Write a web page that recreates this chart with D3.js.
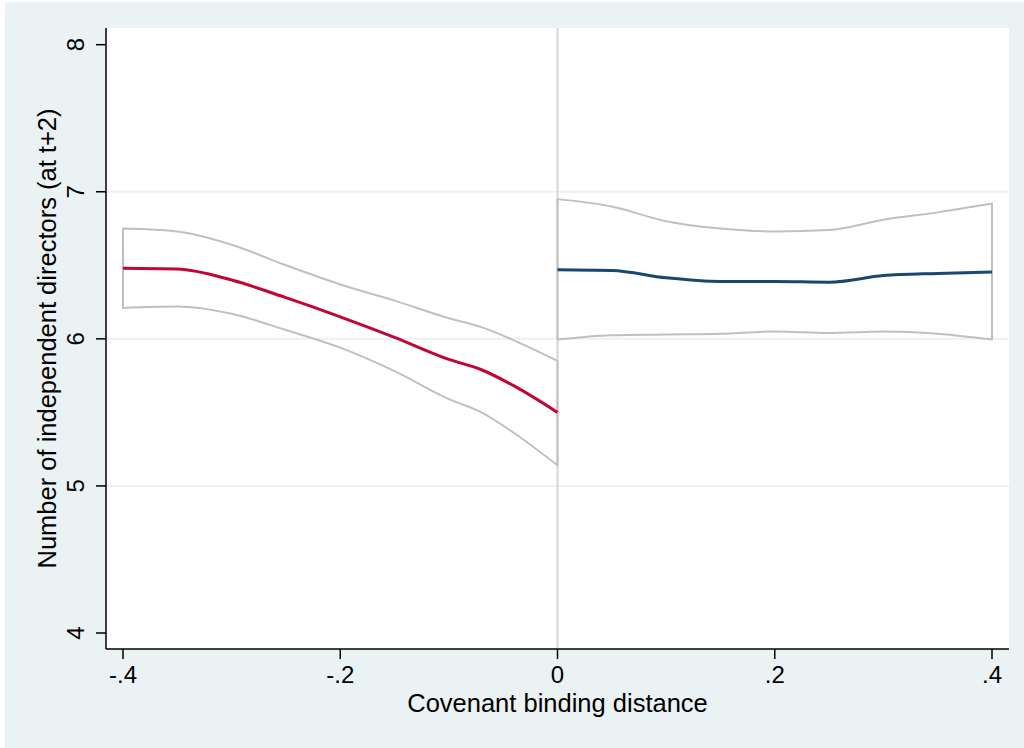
<!DOCTYPE html>
<html>
<head>
<meta charset="utf-8">
<script src="https://cdn.jsdelivr.net/npm/d3@7"></script>
<style>
  body { margin: 0; background: #ffffff; }
  text { font-family: "Liberation Sans", Arial, sans-serif; fill: #000; }
</style>
</head>
<body>
<div id="chart"></div>
<script>
// Values
const leftX     = [-0.4, -0.35, -0.3, -0.25, -0.2, -0.15, -0.1, -0.07, -0.04, 0];
const leftFit   = [6.48, 6.475, 6.40, 6.28, 6.15, 6.01, 5.86, 5.79, 5.68, 5.50];
const leftUpper = [6.75, 6.73, 6.64, 6.50, 6.37, 6.26, 6.14, 6.08, 5.99, 5.85];
const leftLower = [6.21, 6.22, 6.17, 6.06, 5.94, 5.78, 5.59, 5.50, 5.36, 5.14];

const rightX     = [0, 0.05, 0.1, 0.15, 0.2, 0.25, 0.3, 0.35, 0.4];
const rightFit   = [6.47, 6.465, 6.415, 6.39, 6.39, 6.385, 6.43, 6.445, 6.455];
const rightUpper = [6.95, 6.90, 6.80, 6.75, 6.73, 6.74, 6.81, 6.86, 6.92];
const rightLower = [5.995, 6.025, 6.03, 6.035, 6.05, 6.04, 6.05, 6.035, 5.995];

const xTicks = [-0.4, -0.2, 0, 0.2, 0.4];
const xTickLabels = ["-.4", "-.2", "0", ".2", ".4"];
const yTicks = [4, 5, 6, 7, 8];
const yGrid = [5, 6, 7];

const W = 1024, H = 748;
const plot = { left: 106, right: 1009, top: 28, bottom: 649 };

const svg = d3.select("#chart").append("svg")
    .attr("width", W)
    .attr("height", H);

// Stata-style outer background
svg.append("rect")
    .attr("x", 5).attr("y", 2)
    .attr("width", W - 5).attr("height", H - 2)
    .attr("fill", "#eaf2f3");

svg.append("rect")
    .attr("x", plot.left).attr("y", plot.top)
    .attr("width", plot.right - plot.left)
    .attr("height", plot.bottom - plot.top)
    .attr("fill", "#ffffff");

const x = d3.scaleLinear()
    .domain([-0.4, 0.4])
    .range([123, 992]);

const y = d3.scaleLinear()
    .domain([4, 8])
    .range([633, 44.7]);

// grid lines
svg.append("g").selectAll("line")
    .data(yGrid)
  .enter().append("line")
    .attr("x1", plot.left).attr("x2", plot.right)
    .attr("y1", d => y(d)).attr("y2", d => y(d))
    .attr("stroke", "#eaf2f3")
    .attr("stroke-width", 2);

// vertical reference line at zero
svg.append("line")
    .attr("x1", x(0)).attr("x2", x(0))
    .attr("y1", plot.top).attr("y2", plot.bottom)
    .attr("stroke", "#d6d6d6")
    .attr("stroke-width", 2);

const line = d3.line()
    .x(d => x(d[0]))
    .y(d => y(d[1]))
    .curve(d3.curveMonotoneX);

// confidence band outline: upper edge, then lower edge back, closed
function bandPath(xs, up, lo) {
  const top = xs.map((v, i) => [v, up[i]]);
  const bot = xs.map((v, i) => [v, lo[i]]).reverse();
  const lineR = d3.line().x(d => x(d[0])).y(d => y(d[1])).curve(d3.curveMonotoneX);
  const p1 = line(top);
  const p2 = lineR(bot);
  return p1 + "L" + p2.slice(1) + "Z";
}

const bands = [
  { xs: leftX, up: leftUpper, lo: leftLower },
  { xs: rightX, up: rightUpper, lo: rightLower }
];

svg.append("g").selectAll("path")
    .data(bands)
  .enter().append("path")
    .attr("d", d => bandPath(d.xs, d.up, d.lo))
    .attr("fill", "none")
    .attr("stroke", "#c0c0c0")
    .attr("stroke-width", 2)
    .attr("stroke-linejoin", "round");

const fits = [
  { xs: leftX, ys: leftFit, color: "#c10534" },
  { xs: rightX, ys: rightFit, color: "#1a476f" }
];

svg.append("g").selectAll("path")
    .data(fits)
  .enter().append("path")
    .attr("d", d => line(d.xs.map((v, i) => [v, d.ys[i]])))
    .attr("fill", "none")
    .attr("stroke", d => d.color)
    .attr("stroke-width", 3);

// axes lines
svg.append("line")
    .attr("x1", plot.left).attr("x2", plot.left)
    .attr("y1", plot.top).attr("y2", plot.bottom)
    .attr("stroke", "#000").attr("stroke-width", 1.5);
svg.append("line")
    .attr("x1", plot.left).attr("x2", plot.right)
    .attr("y1", plot.bottom).attr("y2", plot.bottom)
    .attr("stroke", "#000").attr("stroke-width", 1.5);

// x ticks
const xt = svg.append("g").selectAll("g")
    .data(xTicks)
  .enter().append("g")
    .attr("transform", d => "translate(" + x(d) + "," + plot.bottom + ")");
xt.append("line")
    .attr("y1", 0).attr("y2", 10)
    .attr("stroke", "#000").attr("stroke-width", 1.5);
xt.append("text")
    .attr("y", 34)
    .attr("text-anchor", "middle")
    .style("font-size", "24px")
    .text((d, i) => xTickLabels[i]);

// y ticks
const yt = svg.append("g").selectAll("g")
    .data(yTicks)
  .enter().append("g")
    .attr("transform", d => "translate(" + plot.left + "," + y(d) + ")");
yt.append("line")
    .attr("x1", 0).attr("x2", -10)
    .attr("stroke", "#000").attr("stroke-width", 1.5);
yt.append("text")
    .attr("transform", "translate(-22,0) rotate(-90)")
    .attr("text-anchor", "middle")
    .style("font-size", "24px")
    .text(d => d);

// axis titles
svg.append("text")
    .attr("x", x(0))
    .attr("y", 712)
    .attr("text-anchor", "middle")
    .style("font-size", "25.5px")
    .text("Covenant binding distance");

svg.append("text")
    .attr("transform", "translate(56," + ((plot.top + plot.bottom) / 2) + ") rotate(-90)")
    .attr("text-anchor", "middle")
    .style("font-size", "25.5px")
    .text("Number of independent directors (at t+2)");
</script>
</body>
</html>
